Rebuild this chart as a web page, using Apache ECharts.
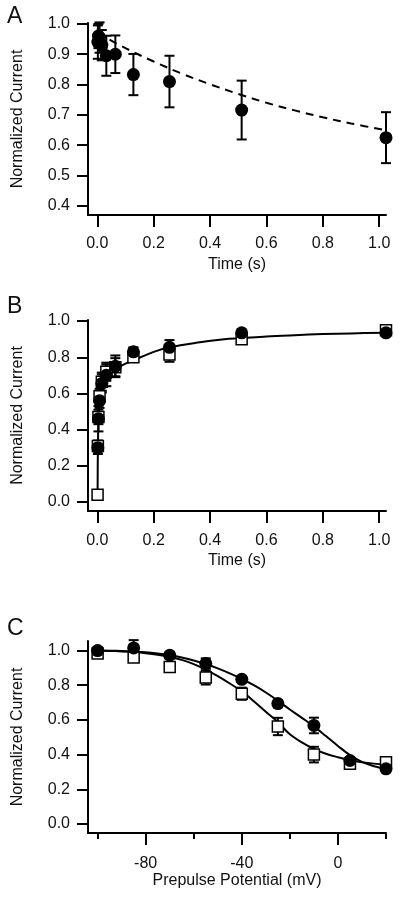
<!DOCTYPE html>
<html><head><meta charset="utf-8">
<script src="https://cdn.jsdelivr.net/npm/echarts@6/dist/echarts.min.js"></script>
<style>html,body{margin:0;padding:0;background:#fff}#c{width:400px;height:900px}</style>
</head><body><div id="c"></div>
<script>
// ---------- Panel A ----------
var aTime = [0.002, 0.004, 0.008, 0.016, 0.032, 0.064, 0.128, 0.256, 0.512, 1.024];
var aVal  = [0.94, 0.96, 0.955, 0.93, 0.895, 0.90, 0.833, 0.81, 0.716, 0.625];
var aErr  = [0.055, 0.04, 0.05, 0.05, 0.066, 0.062, 0.068, 0.085, 0.097, 0.084];
var aFitT = [0.0, 0.1, 0.2, 0.3, 0.4, 0.5, 0.6, 0.7, 0.8, 0.9, 1.024];
var aFitY = [0.970, 0.920, 0.876, 0.836, 0.801, 0.769, 0.740, 0.715, 0.692, 0.672, 0.649];
var aYTicks = [0.4, 0.5, 0.6, 0.7, 0.8, 0.9, 1.0];
// ---------- Panel B ----------
var bCircT = [0.002, 0.004, 0.008, 0.016, 0.032, 0.064, 0.128, 0.256, 0.512, 1.024];
var bCircY = [0.30, 0.46, 0.56, 0.655, 0.70, 0.75, 0.83, 0.855, 0.935, 0.935];
var bCircE = [0.035, 0.07, 0.04, 0.05, 0.06, 0.06, 0.025, 0.04, 0.015, 0.015];
var bSqT = [0.001, 0.002, 0.004, 0.008, 0.016, 0.032, 0.064, 0.128, 0.256, 0.512, 1.024];
var bSqY = [0.04, 0.31, 0.47, 0.585, 0.665, 0.72, 0.745, 0.80, 0.815, 0.90, 0.95];
var bSqE = [0.0, 0.03, 0.04, 0.04, 0.05, 0.05, 0.05, 0.02, 0.04, 0.01, 0.01];
var bFitT = [0.001, 0.002, 0.004, 0.008, 0.016, 0.032, 0.064, 0.1, 0.128, 0.2, 0.256, 0.35, 0.45, 0.512, 0.6, 0.7, 0.8, 0.9, 1.024];
var bFitY = [0.04, 0.28, 0.44, 0.56, 0.645, 0.70, 0.735, 0.765, 0.783, 0.83, 0.855, 0.88, 0.90, 0.906, 0.915, 0.922, 0.928, 0.932, 0.936];
var bYTicks = [0.0, 0.2, 0.4, 0.6, 0.8, 1.0];
var timeTicks = [0.0, 0.2, 0.4, 0.6, 0.8, 1.0];
// ---------- Panel C ----------
var cV = [-100, -85, -70, -55, -40, -25, -10, 5, 20];
var cCircY = [1.0, 1.015, 0.973, 0.925, 0.834, 0.694, 0.568, 0.366, 0.318];
var cCircE = [0.02, 0.045, 0.02, 0.03, 0.015, 0.02, 0.045, 0.02, 0.015];
var cSqY = [0.983, 0.96, 0.905, 0.844, 0.751, 0.562, 0.40, 0.347, 0.356];
var cSqE = [0.015, 0.02, 0.02, 0.04, 0.035, 0.05, 0.045, 0.02, 0.015];
var cFitV = [-100, -95, -90, -85, -80, -75, -70, -65, -60, -55, -50, -45, -40, -35, -30, -25, -20, -15, -10, -5, 0, 5, 10, 15, 20];
var cFitCirc = [1.0, 0.999, 0.997, 0.994, 0.99, 0.983, 0.974, 0.96, 0.943, 0.922, 0.897, 0.868, 0.836, 0.80, 0.758, 0.71, 0.66, 0.612, 0.563, 0.507, 0.45, 0.397, 0.358, 0.333, 0.318];
var cFitSq = [1.0, 0.998, 0.995, 0.991, 0.985, 0.976, 0.963, 0.946, 0.922, 0.89, 0.852, 0.81, 0.765, 0.708, 0.647, 0.587, 0.517, 0.47, 0.432, 0.405, 0.385, 0.368, 0.356, 0.348, 0.343];
var cXMajor = [-80, -40, 0];
var cXMinor = [-100, -60, -20, 20];
var cYTicks = [0.0, 0.2, 0.4, 0.6, 0.8, 1.0];

var FONT = 'Liberation Sans, Arial, sans-serif';
function zip(xs, ys) { return xs.map(function (x, i) { return [x, ys[i]]; }); }
function zip3(xs, ys, es) { return xs.map(function (x, i) { return [x, ys[i], es[i]]; }); }

function xAxis(idx, min, max, ticks, labels, name, fmt, margin, gap) {
  return {
    type: 'value', gridIndex: idx, min: min, max: max, position: 'bottom',
    name: name, nameLocation: 'middle', nameGap: gap,
    nameTextStyle: { color: '#111', fontSize: 16, fontFamily: FONT },
    axisLine: { show: true, onZero: false, lineStyle: { color: '#000', width: 2 } },
    axisTick: { show: true, inside: false, length: 12, lineStyle: { color: '#000', width: 2 }, customValues: ticks },
    axisLabel: { color: '#111', fontSize: 16, fontFamily: FONT, margin: margin, customValues: labels, formatter: fmt },
    splitLine: { show: false }
  };
}
function minorXAxis(idx, min, max, ticks) {
  return {
    type: 'value', gridIndex: idx, min: min, max: max, position: 'bottom', offset: 0,
    axisLine: { show: false, onZero: false },
    axisTick: { show: true, inside: false, length: 6, lineStyle: { color: '#000', width: 2 }, customValues: ticks },
    axisLabel: { show: false },
    splitLine: { show: false }
  };
}
function yAxis(idx, min, max, ticks) {
  return {
    type: 'value', gridIndex: idx, min: min, max: max,
    name: 'Normalized Current', nameLocation: 'middle', nameGap: 62,
    nameTextStyle: { color: '#111', fontSize: 16, fontFamily: FONT },
    axisLine: { show: true, onZero: false, lineStyle: { color: '#000', width: 2 } },
    axisTick: { show: true, inside: false, length: 11, lineStyle: { color: '#000', width: 2 }, customValues: ticks },
    axisLabel: { color: '#111', fontSize: 16, fontFamily: FONT, margin: 18, customValues: ticks,
      formatter: function (v) { return v.toFixed(1); } },
    splitLine: { show: false }
  };
}
function errBars(idx, data, z) {
  return {
    type: 'custom', xAxisIndex: idx, yAxisIndex: idx, z: z, clip: false,
    data: data,
    renderItem: function (params, api) {
      var x = api.value(0), y = api.value(1), e = api.value(2);
      if (!e) return null;
      var t = api.coord([x, y + e]), b = api.coord([x, y - e]);
      var w = 5, st = { stroke: '#000', lineWidth: 2 };
      return { type: 'group', children: [
        { type: 'line', shape: { x1: t[0], y1: t[1], x2: b[0], y2: b[1] }, style: st },
        { type: 'line', shape: { x1: t[0] - w, y1: t[1], x2: t[0] + w, y2: t[1] }, style: st },
        { type: 'line', shape: { x1: b[0] - w, y1: b[1], x2: b[0] + w, y2: b[1] }, style: st }
      ] };
    }
  };
}
function circles(idx, data) {
  return { type: 'scatter', xAxisIndex: idx, yAxisIndex: idx, data: data, symbol: 'circle', symbolSize: 13,
    itemStyle: { color: '#000', opacity: 1 }, clip: false, z: 5 };
}
function squares(idx, data) {
  return { type: 'scatter', xAxisIndex: idx, yAxisIndex: idx, data: data, symbol: 'rect', symbolSize: 11,
    itemStyle: { color: '#fff', borderColor: '#000', borderWidth: 1.5, opacity: 1 }, clip: false, z: 4 };
}
function fitLine(idx, data, dashed) {
  return { type: 'line', xAxisIndex: idx, yAxisIndex: idx, data: data, showSymbol: false, symbol: 'none',
    smooth: 0.35, clip: false, z: 2, silent: true,
    lineStyle: { color: '#000', width: 2, type: dashed ? [8, 6] : 'solid' } };
}
var tfmt = function (v) { return v.toFixed(1); };

var chart = echarts.init(document.getElementById('c'), null, { renderer: 'canvas' });
chart.setOption({
  animation: false,
  backgroundColor: '#fff',
  textStyle: { fontFamily: FONT },
  grid: [
    { left: 88, top: 23, width: 298, height: 192 },
    { left: 88, top: 320, width: 298, height: 191 },
    { left: 88, top: 641, width: 298, height: 192 }
  ],
  xAxis: [
    xAxis(0, -0.033, 1.024, timeTicks, timeTicks, 'Time (s)', tfmt, 21, 42),
    xAxis(1, -0.033, 1.024, timeTicks, timeTicks, 'Time (s)', tfmt, 22, 42),
    xAxis(2, -104, 20, cXMajor, cXMajor, 'Prepulse Potential (mV)', function (v) { return String(v); }, 23, 40),
    minorXAxis(2, -104, 20, cXMinor)
  ],
  yAxis: [
    yAxis(0, 0.37, 1.003, aYTicks),
    yAxis(1, -0.05, 1.006, bYTicks),
    yAxis(2, -0.052, 1.055, cYTicks)
  ],
  graphic: [
    { type: 'text', left: 7, top: 5, style: { text: 'A', font: '23px ' + FONT, fill: '#111' } },
    { type: 'text', left: 7, top: 295, style: { text: 'B', font: '23px ' + FONT, fill: '#111' } },
    { type: 'text', left: 7, top: 617, style: { text: 'C', font: '23px ' + FONT, fill: '#111' } }
  ],
  series: [
    fitLine(0, zip(aFitT, aFitY), true),
    errBars(0, zip3(aTime, aVal, aErr), 3),
    circles(0, zip(aTime, aVal)),

    fitLine(1, zip(bFitT, bFitY), false),
    errBars(1, zip3(bSqT, bSqY, bSqE), 3),
    squares(1, zip(bSqT, bSqY)),
    errBars(1, zip3(bCircT, bCircY, bCircE), 3),
    circles(1, zip(bCircT, bCircY)),

    fitLine(2, zip(cFitV, cFitCirc), false),
    fitLine(2, zip(cFitV, cFitSq), false),
    errBars(2, zip3(cV, cSqY, cSqE), 3),
    squares(2, zip(cV, cSqY)),
    errBars(2, zip3(cV, cCircY, cCircE), 3),
    circles(2, zip(cV, cCircY))
  ]
});
</script></body></html>
